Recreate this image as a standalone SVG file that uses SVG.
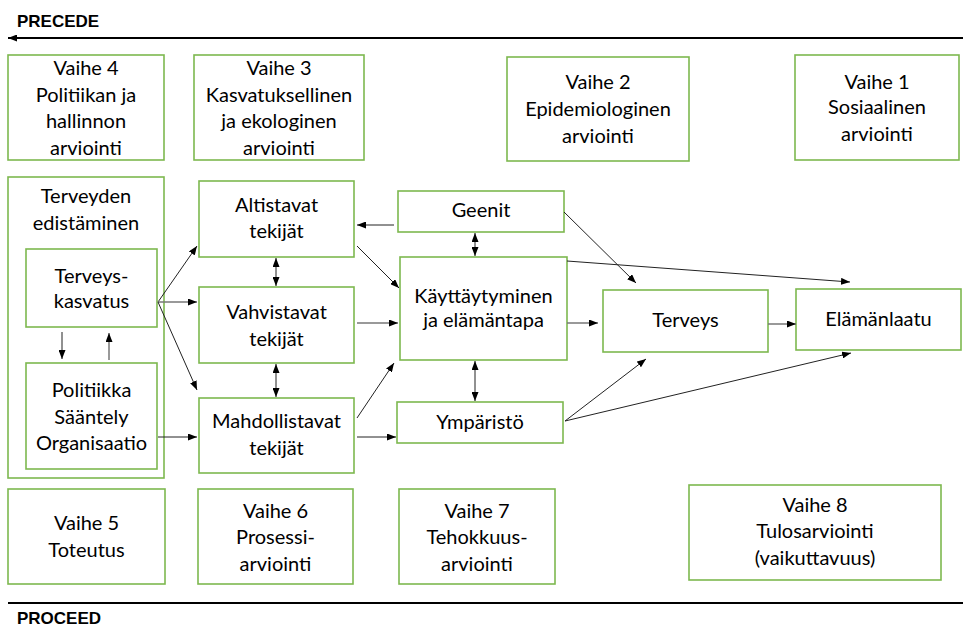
<svg xmlns="http://www.w3.org/2000/svg" width="963" height="628" viewBox="0 0 963 628">
<defs>
<marker id="ah" viewBox="0 0 10 10" refX="10" refY="5" markerWidth="9" markerHeight="7" markerUnits="userSpaceOnUse" orient="auto-start-reverse" preserveAspectRatio="none">
<path d="M0,0 L10,5 L0,10 z" fill="#000"/>
</marker>
</defs>
<style>
.box{fill:#fff;stroke:#7DB84F;stroke-width:1.6}
.t{font-family:Lato,"Liberation Sans",sans-serif;font-size:20px;fill:#000;text-anchor:middle}
.h{font-family:"Liberation Sans",Arial,sans-serif;font-size:17px;font-weight:bold;fill:#000}
.c{stroke:#222;stroke-width:1;fill:none;marker-end:url(#ah)}
.g{stroke:#777;stroke-width:1.5;fill:none;marker-end:url(#ah)}
.d{stroke:#222;stroke-width:1;fill:none;marker-end:url(#ah);marker-start:url(#ah)}
</style>
<rect width="963" height="628" fill="#fff"/>

<g id="precede">
<text class="h" x="17" y="27">PRECEDE</text>
<line x1="963" y1="38" x2="8" y2="38" stroke="#000" stroke-width="2" marker-end="url(#ah)"/>
</g>
<g id="proceed">
<line x1="8" y1="603" x2="963" y2="603" stroke="#000" stroke-width="2"/>
<text class="h" x="17" y="624">PROCEED</text>
</g>

<g id="vaihe4"><rect class="box" x="8" y="55" width="156" height="105"/>
<text class="t" x="86" y="75">Vaihe 4</text><text class="t" x="86" y="102">Politiikan ja</text><text class="t" x="86" y="128">hallinnon</text><text class="t" x="86" y="155">arviointi</text></g>
<g id="vaihe3"><rect class="box" x="194" y="55" width="170" height="105"/>
<text class="t" x="279" y="75">Vaihe 3</text><text class="t" x="279" y="102">Kasvatuksellinen</text><text class="t" x="279" y="128">ja ekologinen</text><text class="t" x="279" y="155">arviointi</text></g>
<g id="vaihe2"><rect class="box" x="507" y="57" width="182" height="104"/>
<text class="t" x="598" y="89">Vaihe 2</text><text class="t" x="598" y="116">Epidemiologinen</text><text class="t" x="598" y="143">arviointi</text></g>
<g id="vaihe1"><rect class="box" x="795" y="55" width="164" height="105"/>
<text class="t" x="877" y="89">Vaihe 1</text><text class="t" x="877" y="114">Sosiaalinen</text><text class="t" x="877" y="141">arviointi</text></g>

<g id="terveyden-edistaminen"><rect class="box" x="8" y="177" width="156" height="301"/>
<text class="t" x="86" y="203">Terveyden</text><text class="t" x="86" y="230">edistäminen</text></g>
<g id="terveyskasvatus"><rect class="box" x="26" y="249" width="131" height="78"/>
<text class="t" x="91.5" y="283">Terveys-</text><text class="t" x="91.5" y="308">kasvatus</text></g>
<g id="politiikka"><rect class="box" x="26" y="363" width="131" height="106"/>
<text class="t" x="91.5" y="397">Politiikka</text><text class="t" x="91.5" y="424">Sääntely</text><text class="t" x="91.5" y="450">Organisaatio</text></g>

<g id="altistavat"><rect class="box" x="199" y="181" width="155" height="76"/>
<text class="t" x="276.5" y="212">Altistavat</text><text class="t" x="276.5" y="238">tekijät</text></g>
<g id="vahvistavat"><rect class="box" x="199" y="287" width="155" height="76"/>
<text class="t" x="276.5" y="319">Vahvistavat</text><text class="t" x="276.5" y="346">tekijät</text></g>
<g id="mahdollistavat"><rect class="box" x="199" y="398" width="155" height="75"/>
<text class="t" x="276.5" y="428">Mahdollistavat</text><text class="t" x="276.5" y="455">tekijät</text></g>

<g id="geenit"><rect class="box" x="398" y="191" width="166" height="41"/>
<text class="t" x="481" y="217">Geenit</text></g>
<g id="kayttaytyminen"><rect class="box" x="400" y="257" width="167" height="103"/>
<text class="t" x="483.5" y="303">Käyttäytyminen</text><text class="t" x="483.5" y="327">ja elämäntapa</text></g>
<g id="ymparisto"><rect class="box" x="397" y="402" width="166" height="41"/>
<text class="t" x="480" y="429">Ympäristö</text></g>
<g id="terveys"><rect class="box" x="603" y="290" width="165" height="62"/>
<text class="t" x="685.5" y="327">Terveys</text></g>
<g id="elamanlaatu"><rect class="box" x="796" y="289" width="165" height="61"/>
<text class="t" x="878.5" y="326">Elämänlaatu</text></g>

<g id="vaihe5"><rect class="box" x="8" y="489" width="157" height="95"/>
<text class="t" x="86.5" y="530">Vaihe 5</text><text class="t" x="86.5" y="557">Toteutus</text></g>
<g id="vaihe6"><rect class="box" x="198" y="489" width="155" height="95"/>
<text class="t" x="275.5" y="518">Vaihe 6</text><text class="t" x="275.5" y="544">Prosessi-</text><text class="t" x="275.5" y="571">arviointi</text></g>
<g id="vaihe7"><rect class="box" x="399" y="489" width="156" height="95"/>
<text class="t" x="477" y="518">Vaihe 7</text><text class="t" x="477" y="544">Tehokkuus-</text><text class="t" x="477" y="571">arviointi</text></g>
<g id="vaihe8"><rect class="box" x="689" y="485" width="252" height="95"/>
<text class="t" x="815" y="512">Vaihe 8</text><text class="t" x="815" y="538">Tulosarviointi</text><text class="t" x="815" y="565">(vaikuttavuus)</text></g>

<g id="connectors">
<line class="c" x1="158" y1="302" x2="197" y2="246"/>
<line class="g" x1="158" y1="302" x2="197" y2="302"/>
<line class="c" x1="158" y1="302" x2="197" y2="390"/>
<line class="c" x1="62" y1="332" x2="62" y2="359"/>
<line class="g" x1="109" y1="360" x2="109" y2="333"/>
<line class="c" x1="158" y1="437" x2="197" y2="437"/>
<line class="d" x1="276" y1="258" x2="276" y2="286"/>
<line class="d" x1="276" y1="364" x2="276" y2="397"/>
<line class="c" x1="394" y1="225" x2="357" y2="225"/>
<line class="c" x1="357" y1="246" x2="399" y2="288"/>
<line class="g" x1="357" y1="323" x2="398" y2="323"/>
<line class="c" x1="357" y1="418" x2="394" y2="363"/>
<line class="c" x1="357" y1="437" x2="396" y2="437"/>
<line class="d" x1="475" y1="233" x2="475" y2="256"/>
<line class="d" x1="475" y1="361" x2="475" y2="401"/>
<line class="c" x1="564" y1="212" x2="636" y2="283"/>
<line class="c" x1="567" y1="261" x2="850" y2="282"/>
<line class="g" x1="567" y1="323" x2="598" y2="323"/>
<line class="g" x1="768" y1="324" x2="796" y2="324"/>
<line class="c" x1="565" y1="421" x2="646" y2="359"/>
<line class="c" x1="565" y1="421" x2="851" y2="353"/>
</g>
</svg>
